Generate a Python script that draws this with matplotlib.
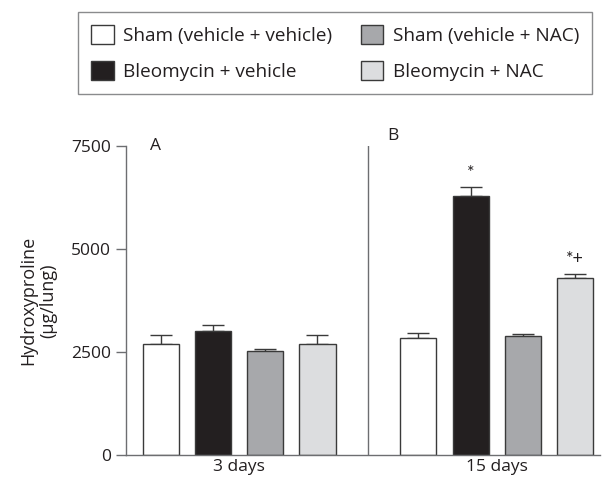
import matplotlib
matplotlib.use("Agg")
import matplotlib.pyplot as plt
from matplotlib.patches import Patch

# data
groups = ["3 days", "15 days"]
series = ["Sham (vehicle + vehicle)", "Bleomycin + vehicle",
          "Sham (vehicle + NAC)", "Bleomycin + NAC"]
means_3d = [2700, 3010, 2530, 2700]
errs_3d = [225, 155, 40, 225]
means_15d = [2845, 6300, 2890, 4290]
errs_15d = [120, 205, 50, 115]
marks_15d = ["", "*", "", "*+"]
panel_labels = ["A", "B"]

colors = ["#ffffff", "#231f20", "#a7a8ab", "#dcdddf"]
edge = "#3a3a3a"
axis_col = "#6d6e71"
text_col = "#231f20"

plt.rcParams["font.family"] = ["Open Sans", "DejaVu Sans"]
plt.rcParams["font.size"] = 12.5
plt.rcParams["text.color"] = text_col

fig = plt.figure(figsize=(6.06, 4.87), dpi=100)
ax = fig.add_axes([0.208, 0.0657, 0.782, 0.634])

offsets = [0.0, 4.93]
width = 0.69
for g, (means, errs) in enumerate([(means_3d, errs_3d), (means_15d, errs_15d)]):
    xs = [offsets[g] + i for i in range(len(series))]
    ax.bar(xs, means, width=width, color=colors, edgecolor=edge, linewidth=1.0, zorder=2)
    ax.errorbar(xs, means, yerr=[[0] * len(errs), errs], fmt="none",
                ecolor=edge, elinewidth=1.0, capsize=8, capthick=1.0, zorder=1)

for i, m in enumerate(marks_15d):
    if m:
        ax.text(offsets[1] + i, means_15d[i] + errs_15d[i] + 160, m,
                ha="center", va="bottom", fontsize=13, family="Lato")

divider = (offsets[0] + 3 + offsets[1]) / 2
ax.axvline(divider, color=axis_col, linewidth=1.0)

ax.set_xlim(-0.66, 8.4)
ax.set_ylim(0, 7500)
ax.set_yticks([0, 2500, 5000, 7500])
ax.set_xticks([offsets[0] + 1.5, offsets[1] + 1.5])
ax.set_xticklabels(groups)
ax.tick_params(axis="x", length=0, pad=3, labelsize=12.5, colors=text_col)
ax.tick_params(axis="y", length=7, width=1.0, color=axis_col, pad=4,
               labelsize=12.5, labelcolor=text_col)
for s in ["top", "right"]:
    ax.spines[s].set_visible(False)
for s in ["left", "bottom"]:
    ax.spines[s].set_color(axis_col)
    ax.spines[s].set_linewidth(1.0)

ax.set_ylabel("Hydroxyproline\n(µg/lung)", fontsize=13, color=text_col,
              labelpad=10, linespacing=1.1)

ax.text(-0.1, 7500, panel_labels[0], ha="center", va="center", fontsize=12.5)
ax.text(4.45, 7750, panel_labels[1], ha="center", va="center", fontsize=12.5)

handles = [Patch(facecolor=c, edgecolor=edge, linewidth=1.0) for c in colors]
leg = fig.legend(handles, series,
                 loc="upper left", bbox_to_anchor=(78 / 606, 1 - 11.5 / 487),
                 ncol=2, frameon=True, fancybox=False,
                 edgecolor=axis_col, fontsize=13.7, handlelength=1.17,
                 handleheight=1.17, handletextpad=0.5, borderpad=0.7,
                 labelspacing=0.85, columnspacing=1.5, borderaxespad=0)
leg.get_frame().set_linewidth(1.0)

fig.savefig("out.png", dpi=100)
